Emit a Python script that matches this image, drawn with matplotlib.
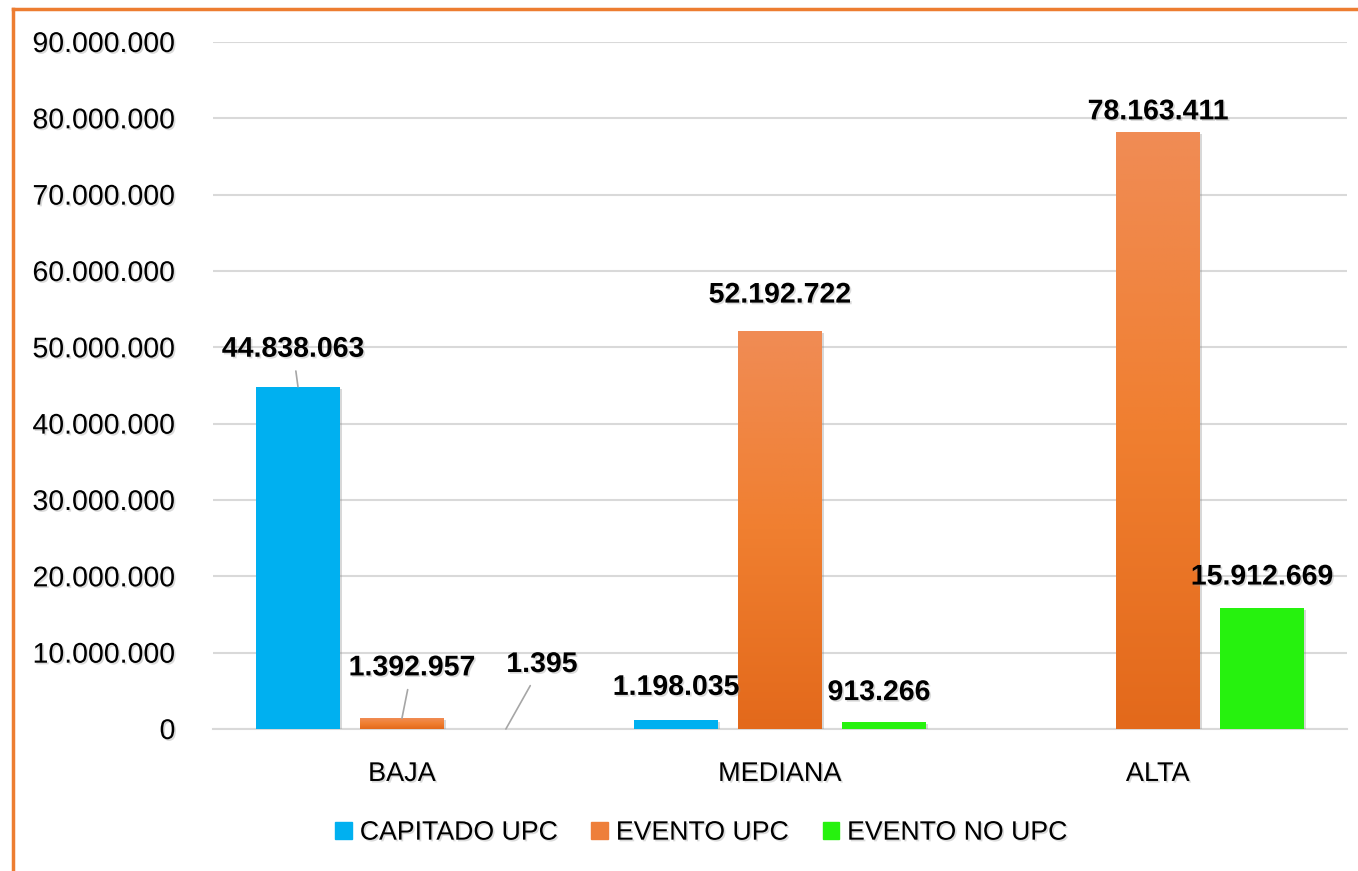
import matplotlib.pyplot as plt
import matplotlib.patheffects as pe
import numpy as np
from matplotlib.colors import LinearSegmentedColormap
from matplotlib.patches import Rectangle

plt.rcParams['font.family'] = ['Liberation Sans', 'DejaVu Sans']

# Data
categories = ["BAJA", "MEDIANA", "ALTA"]
series_names = ["CAPITADO UPC", "EVENTO UPC", "EVENTO NO UPC"]
capitado_upc = [44838063, 1198035, 0]
evento_upc = [1392957, 52192722, 78163411]
evento_no_upc = [1395, 913266, 15912669]
yticks = np.arange(0, 90000001, 10000000)

# label placement (pixel offsets from bar top: dx, dy) and whether a leader line is drawn
label_off = {
    (0, 0): (-5, 37, True), (0, 1): (10, 50, True), (0, 2): (36, 64, True),
    (1, 0): (0, 32, False), (1, 1): (0, 35, False), (1, 2): (-5, 29, False),
    (2, 1): (0, 20, False), (2, 2): (0, 30, False),
}

blue = '#00B0F0'
green = '#26F20E'
orange_cmap = LinearSegmentedColormap.from_list('og', ['#E3691B', '#F07F30', '#F08C55'])

fig = plt.figure(figsize=(13.58, 8.71), dpi=100)
ax = fig.add_axes([0.1568, 0.163, 0.835, 0.7888])

x = np.arange(len(categories))
w = 0.222
off = 0.275
shadow = [pe.SimplePatchShadow(offset=(1.5, -1.5), shadow_rgbFace='#808080', alpha=0.3), pe.Normal()]
txt_shadow = [pe.SimplePatchShadow(offset=(1.2, -1.2), shadow_rgbFace='#999999', alpha=0.35), pe.Normal()]

all_series = [capitado_upc, evento_upc, evento_no_upc]
colors = [blue, '#EE7F3A', green]
bar_sets = []
for i, vals in enumerate(all_series):
    bars = ax.bar(x + (i - 1) * off, vals, w, color=colors[i], zorder=3, linewidth=0)
    for b in bars:
        b.set_path_effects(shadow)
    bar_sets.append(bars)

# gradient fill on the orange bars
grad = np.linspace(0, 1, 256).reshape(-1, 1)
for b in bar_sets[1]:
    x0, h = b.get_x(), b.get_height()
    im = ax.imshow(grad, cmap=orange_cmap, origin='lower', aspect='auto',
                   extent=[x0, x0 + b.get_width(), 0, h], zorder=4)
    im.set_clip_path(b)

ax.set_xlim(-0.5, 2.5)
ax.set_ylim(0, 90000000)
ax.set_yticks(yticks)
ax.set_yticklabels([f"{v:,.0f}".replace(',', '.') for v in yticks])
ax.set_xticks(x)
ax.set_xticklabels(categories)
ax.tick_params(axis='y', length=0, pad=27, labelsize=20.5)
ax.tick_params(axis='x', length=0, pad=23, labelsize=19.5)
for t in ax.get_yticklabels() + ax.get_xticklabels():
    t.set_path_effects(txt_shadow)

ax.grid(axis='y', color='#D9D9D9', linewidth=1.5, zorder=0)
ax.set_axisbelow(True)
for s in ['top', 'right', 'left']:
    ax.spines[s].set_visible(False)
ax.spines['bottom'].set_color('#D9D9D9')
ax.spines['bottom'].set_linewidth(1.5)

# data labels
pt = 72 / 100
for (ci, si), (dx, dy, leader) in label_off.items():
    val = all_series[si][ci]
    xb = x[ci] + (si - 1) * off
    arrow = dict(arrowstyle='-', color='#A6A6A6', lw=1.2, shrinkA=4, shrinkB=0) if leader else None
    ax.annotate(f"{val:,.0f}".replace(',', '.'), xy=(xb, val),
                xytext=(dx * pt, dy * pt), textcoords='offset points',
                ha='center', va='center', fontsize=20.5, fontweight='bold',
                arrowprops=arrow, zorder=6, path_effects=txt_shadow)

# legend
handles = [Rectangle((0, 0), 1, 1, color=c) for c in [blue, '#EE7F3A', green]]
leg = fig.legend(handles, series_names, loc='center', bbox_to_anchor=(0.516, 0.044),
                 ncol=3, frameon=False, fontsize=19.2, handlelength=0.62, handleheight=0.62,
                 handletextpad=0.3, columnspacing=1.3)
for t in leg.get_texts():
    t.set_path_effects(txt_shadow)

# orange frame
fig.add_artist(plt.Line2D([0.0096, 0.0096], [0, 0.9897], color='#ED7D31', lw=2.5, transform=fig.transFigure))
fig.add_artist(plt.Line2D([0.0096, 1.0], [0.9897, 0.9897], color='#ED7D31', lw=2.5, transform=fig.transFigure))

fig.savefig('out.png', dpi=100)
